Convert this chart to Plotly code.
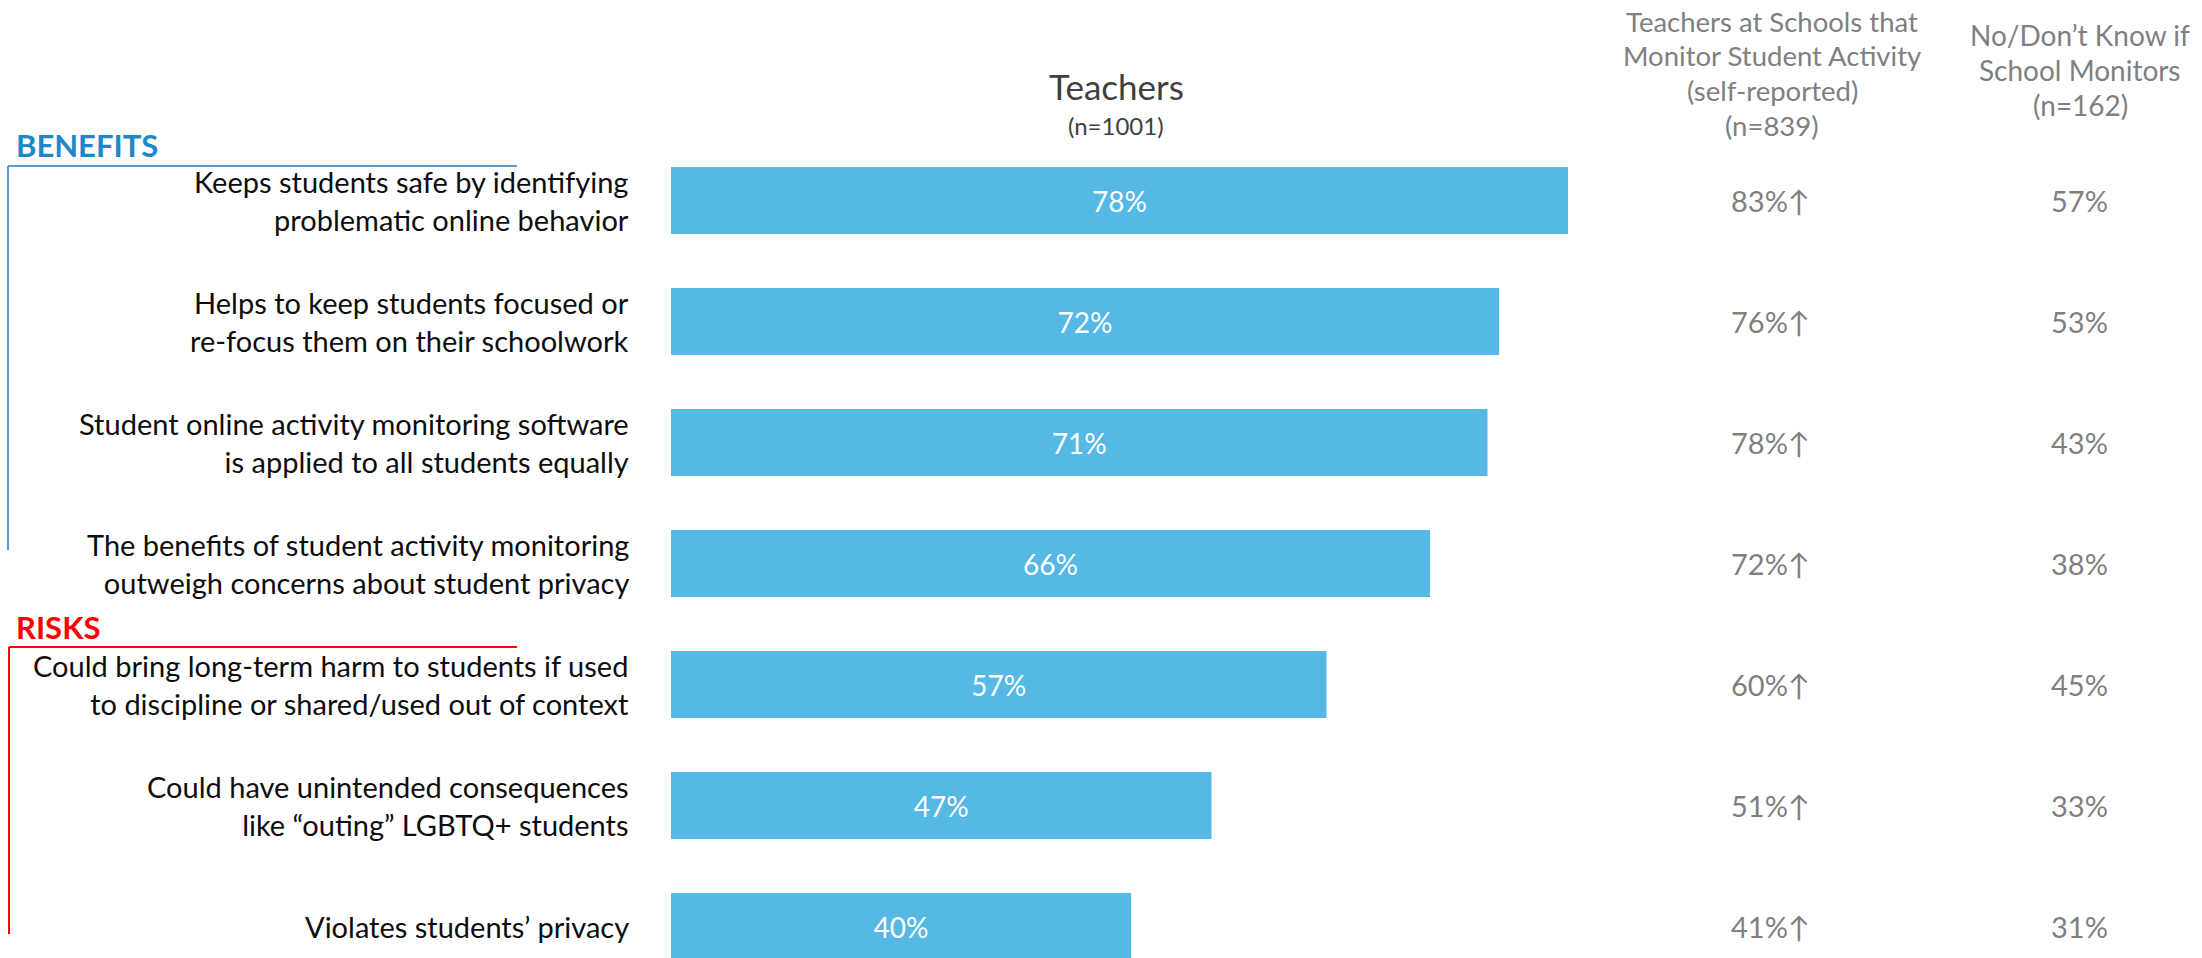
import plotly.graph_objects as go

# ---------------- data ----------------
statements = [
    "Keeps students safe by identifying<br>problematic online behavior",
    "Helps to keep students focused or<br>re-focus them on their schoolwork",
    "Student online activity monitoring software<br>is applied to all students equally",
    "The benefits of student activity monitoring<br>outweigh concerns about student privacy",
    "Could bring long-term harm to students if used<br>to discipline or shared/used out of context",
    "Could have unintended consequences<br>like \u201couting\u201d LGBTQ+ students",
    "Violates students\u2019 privacy",
]
teachers = [78, 72, 71, 66, 57, 47, 40]
monitor_schools = [83, 76, 78, 72, 60, 51, 41]
monitor_sig_up = [True, True, True, True, True, True, True]
no_dont_know = [57, 53, 43, 38, 45, 33, 31]

header_teachers = "Teachers"
header_teachers_n = "(n=1001)"
header_monitor_lines = ["Teachers at Schools that", "Monitor Student Activity", "(self-reported)", "(n=839)"]
header_nodk_lines = ["No/Don\u2019t Know if", "School Monitors", "(n=162)"]
group_benefits = "BENEFITS"
group_risks = "RISKS"

# ---------------- layout constants ----------------
W, H = 2202, 958
FONT = "Lato"
BAR_COLOR = "#55B8E5"
GRAY = "#7F7F7F"

x0_px = 671.0        # screen pixel of 0%
px_per_pct = 11.5
yc0_px = 200.5       # screen center of first bar
step_px = 121.0

def px(x):
    return x / W

def py(y):
    return 1 - y / H

y_top = (0 - yc0_px) / step_px
y_bot = (H - yc0_px) / step_px
x_lo = -x0_px / px_per_pct
x_hi = (W - x0_px) / px_per_pct

fig = go.Figure()
fig.add_trace(go.Bar(
    y=statements,
    x=teachers,
    orientation="h",
    marker=dict(color=BAR_COLOR, line=dict(width=0)),
    width=67 / step_px,
    text=[f"{v}%" for v in teachers],
    textposition="inside",
    insidetextanchor="middle",
    textangle=0,
    textfont=dict(family=FONT, size=28, color="white"),
    hoverinfo="skip",
))

annotations = []
# statement labels
for s in statements:
    annotations.append(dict(
        x=px(631), xref="paper", y=s, yref="y",
        text=s, showarrow=False, xanchor="right", yanchor="middle", align="right",
        font=dict(family=FONT, size=29, color="#0D0D0D"),
    ))
# column values
for s, v, up, v2 in zip(statements, monitor_schools, monitor_sig_up, no_dont_know):
    annotations.append(dict(
        x=px(1770), xref="paper", y=s, yref="y",
        text=f"{v}%" + ("\u2191" if up else ""), showarrow=False,
        xanchor="center", yanchor="middle",
        font=dict(family=FONT, size=29, color=GRAY),
    ))
    annotations.append(dict(
        x=px(2079), xref="paper", y=s, yref="y",
        text=f"{v2}%", showarrow=False,
        xanchor="center", yanchor="middle",
        font=dict(family=FONT, size=29, color=GRAY),
    ))
# headers
annotations += [
    dict(x=px(1116), xref="paper", y=py(86), yref="paper", text=header_teachers,
         showarrow=False, xanchor="center", yanchor="middle",
         font=dict(family=FONT, size=35, color="#404040")),
    dict(x=px(1116), xref="paper", y=py(125), yref="paper", text=header_teachers_n,
         showarrow=False, xanchor="center", yanchor="middle",
         font=dict(family=FONT, size=24, color="#404040")),
    dict(x=px(14), xref="paper", y=py(145), yref="paper", text=f"<b>{group_benefits}</b>",
         showarrow=False, xanchor="left", yanchor="middle",
         font=dict(family=FONT, size=31, color="#1C87C9")),
    dict(x=px(14), xref="paper", y=py(627), yref="paper", text=f"<b>{group_risks}</b>",
         showarrow=False, xanchor="left", yanchor="middle",
         font=dict(family=FONT, size=31, color="#FF0000")),
]
for i, line in enumerate(header_monitor_lines):
    annotations.append(dict(
        x=px(1772), xref="paper", y=py(21 + 34.8 * i), yref="paper", text=line,
        showarrow=False, xanchor="center", yanchor="middle",
        font=dict(family=FONT, size=27.5, color=GRAY)))
for i, line in enumerate(header_nodk_lines):
    annotations.append(dict(
        x=px(2080), xref="paper", y=py(35 + 35 * i), yref="paper", text=line,
        showarrow=False, xanchor="center", yanchor="middle",
        font=dict(family=FONT, size=28, color=GRAY)))

shapes = [
    dict(type="line", xref="paper", yref="paper", x0=px(8), x1=px(517), y0=py(166), y1=py(166),
         line=dict(color="#5B9BD5", width=2)),
    dict(type="line", xref="paper", yref="paper", x0=px(8), x1=px(8), y0=py(166), y1=py(550),
         line=dict(color="#5B9BD5", width=2)),
    dict(type="line", xref="paper", yref="paper", x0=px(9), x1=px(517), y0=py(647), y1=py(647),
         line=dict(color="#FF0000", width=2)),
    dict(type="line", xref="paper", yref="paper", x0=px(9), x1=px(9), y0=py(647), y1=py(934),
         line=dict(color="#FF0000", width=2)),
]

fig.update_layout(
    width=W, height=H,
    margin=dict(l=0, r=0, t=0, b=0),
    paper_bgcolor="white", plot_bgcolor="white",
    showlegend=False,
    annotations=annotations,
    shapes=shapes,
    xaxis=dict(range=[x_lo, x_hi], visible=False, fixedrange=True),
    yaxis=dict(type="category", categoryorder="array", categoryarray=statements,
               range=[y_bot, y_top], visible=False, fixedrange=True),
)

fig.write_html("out.html", config={"displayModeBar": False},
               post_script="document.body.style.margin='0px';document.body.style.overflow='hidden';")
